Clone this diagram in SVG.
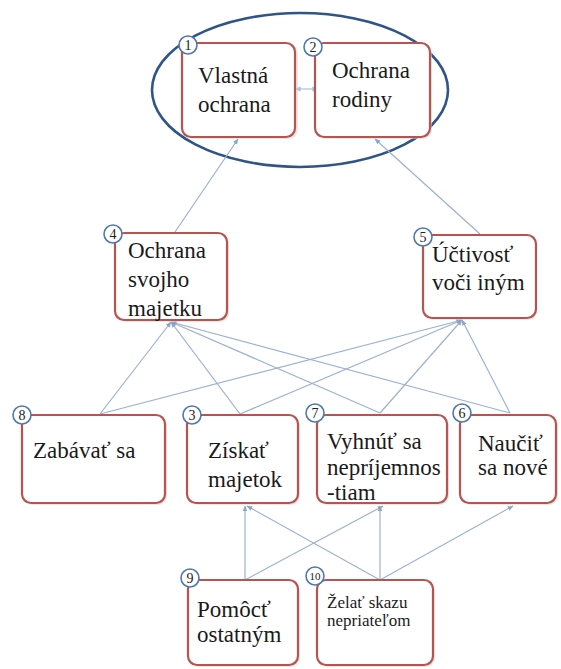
<svg xmlns="http://www.w3.org/2000/svg" width="561" height="669" viewBox="0 0 561 669">
  <style>
    .box { fill: #ffffff; stroke: #b8544f; stroke-width: 2.2; }
    .shadow { fill: #d9d4d4; stroke: none; opacity: 0.55; }
    .badge { fill: #ffffff; stroke: #4f78ad; stroke-width: 1.6; }
    .num { font-family: "Times New Roman", "Liberation Serif", Tinos, serif; font-size: 14px; fill: #222; text-anchor: middle; }
    .lbl { font-family: "Times New Roman", "Liberation Serif", Tinos, serif; font-size: 23px; fill: #1a1a1a; }
    .small { font-family: "Times New Roman", "Liberation Serif", Tinos, serif; font-size: 17px; fill: #1a1a1a; }
    .link { stroke: #9cb2cf; stroke-width: 1.2; fill: none; marker-end: url(#head); }
    .group { fill: none; stroke: #2f5587; stroke-width: 2.6; }
  </style>
  <defs>
    <marker id="head" viewBox="0 0 10 10" refX="9" refY="5" markerWidth="6" markerHeight="6" orient="auto" markerUnits="userSpaceOnUse">
      <path d="M0,1 L10,5 L0,9 Z" fill="#8ea6c6"/>
    </marker>
    <marker id="headStart" viewBox="0 0 10 10" refX="1" refY="5" markerWidth="6" markerHeight="6" orient="auto-start-reverse" markerUnits="userSpaceOnUse">
      <path d="M0,1 L10,5 L0,9 Z" fill="#a9c0dc"/>
    </marker>
  </defs>

  <rect width="561" height="669" fill="#ffffff"/>

  <!-- grouping ellipse around the two top goals -->
  <ellipse class="group" cx="300" cy="90" rx="148" ry="77"/>

  <!-- connectors -->
  <g id="connectors">
    <!-- row 2 to top -->
    <line class="link" x1="175" y1="232" x2="238" y2="139"/>
    <line class="link" x1="480" y1="234" x2="375" y2="139"/>
    <!-- double arrow between 1 and 2 -->
    <line x1="300" y1="89" x2="313" y2="89" stroke="#a9c0dc" stroke-width="1.2" marker-start="url(#headStart)" marker-end="url(#headStart)"/>
    <!-- row 3 to node 4 -->
    <line class="link" x1="100" y1="414" x2="171" y2="322"/>
    <line class="link" x1="240" y1="414" x2="171" y2="322"/>
    <line class="link" x1="380" y1="413" x2="171" y2="322"/>
    <line class="link" x1="510" y1="413" x2="171" y2="322"/>
    <!-- row 3 to node 5 -->
    <line class="link" x1="100" y1="414" x2="462" y2="320"/>
    <line class="link" x1="240" y1="414" x2="462" y2="320"/>
    <line class="link" x1="380" y1="413" x2="462" y2="320"/>
    <line class="link" x1="510" y1="413" x2="462" y2="320"/>
    <!-- bottom row to row 3 -->
    <line class="link" x1="245" y1="580" x2="245" y2="506"/>
    <line class="link" x1="245" y1="580" x2="383" y2="506"/>
    <line class="link" x1="380" y1="580" x2="247" y2="506"/>
    <line class="link" x1="380" y1="580" x2="380" y2="506"/>
    <line class="link" x1="380" y1="580" x2="513" y2="506"/>
  </g>

  <g id="node1">
    <rect class="shadow" x="184" y="45" width="114" height="94" rx="9"/>
    <rect class="box" x="182" y="43" width="113" height="94" rx="9"/>
    <text class="lbl" x="198" y="83">Vlastná</text>
    <text class="lbl" x="198" y="112">ochrana</text>
    <circle class="badge" cx="188" cy="45" r="9"/>
    <text class="num" x="188" y="50">1</text>
  </g>

  <g id="node2">
    <rect class="shadow" x="317" y="45" width="115" height="94" rx="9"/>
    <rect class="box" x="315" y="43" width="115" height="94" rx="9"/>
    <text class="lbl" x="332" y="78">Ochrana</text>
    <text class="lbl" x="332" y="107">rodiny</text>
    <circle class="badge" cx="313" cy="47" r="9"/>
    <text class="num" x="313" y="52">2</text>
  </g>

  <g id="node4">
    <rect class="shadow" x="117" y="235" width="112" height="87" rx="9"/>
    <rect class="box" x="115" y="233" width="112" height="87" rx="9"/>
    <text class="lbl" x="128" y="258">Ochrana</text>
    <text class="lbl" x="128" y="287">svojho</text>
    <text class="lbl" x="128" y="316">majetku</text>
    <circle class="badge" cx="113" cy="234" r="9"/>
    <text class="num" x="113" y="239">4</text>
  </g>

  <g id="node5">
    <rect class="shadow" x="425" y="237" width="112" height="83" rx="9"/>
    <rect class="box" x="423" y="235" width="113" height="83" rx="9"/>
    <text class="lbl" x="432" y="262">Účtivosť</text>
    <text class="lbl" x="432" y="290">voči iným</text>
    <circle class="badge" cx="423" cy="237" r="9"/>
    <text class="num" x="423" y="242">5</text>
  </g>

  <g id="node8">
    <rect class="shadow" x="24" y="417" width="143" height="88" rx="9"/>
    <rect class="box" x="22" y="415" width="143" height="88" rx="9"/>
    <text class="lbl" x="33" y="458">Zabávať sa</text>
    <circle class="badge" cx="22" cy="415" r="9"/>
    <text class="num" x="22" y="420">8</text>
  </g>

  <g id="node3">
    <rect class="shadow" x="189" y="417" width="111" height="88" rx="9"/>
    <rect class="box" x="187" y="415" width="111" height="88" rx="9"/>
    <text class="lbl" x="208" y="458">Získať</text>
    <text class="lbl" x="208" y="487">majetok</text>
    <circle class="badge" cx="192" cy="415" r="9"/>
    <text class="num" x="192" y="420">3</text>
  </g>

  <g id="node7">
    <rect class="shadow" x="319" y="417" width="130" height="88" rx="9"/>
    <rect class="box" x="317" y="415" width="130" height="88" rx="9"/>
    <text class="lbl" x="327" y="449">Vyhnúť sa</text>
    <text class="lbl" x="327" y="475">nepríjemnos</text>
    <text class="lbl" x="327" y="500">-tiam</text>
    <circle class="badge" cx="315" cy="413" r="9"/>
    <text class="num" x="315" y="418">7</text>
  </g>

  <g id="node6">
    <rect class="shadow" x="462" y="417" width="96" height="88" rx="9"/>
    <rect class="box" x="460" y="415" width="96" height="88" rx="9"/>
    <text class="lbl" x="478" y="451">Naučiť</text>
    <text class="lbl" x="478" y="475">sa nové</text>
    <circle class="badge" cx="462" cy="413" r="9"/>
    <text class="num" x="462" y="418">6</text>
  </g>

  <g id="node9">
    <rect class="shadow" x="190" y="582" width="110" height="85" rx="9"/>
    <rect class="box" x="188" y="580" width="110" height="85" rx="9"/>
    <text class="lbl" x="197" y="617">Pomôcť</text>
    <text class="lbl" x="197" y="642">ostatným</text>
    <circle class="badge" cx="190" cy="578" r="9"/>
    <text class="num" x="190" y="583">9</text>
  </g>

  <g id="node10">
    <rect class="shadow" x="319" y="582" width="116" height="85" rx="9"/>
    <rect class="box" x="317" y="580" width="116" height="85" rx="9"/>
    <text class="small" x="327" y="608">Želať skazu</text>
    <text class="small" x="327" y="626">nepriateľom</text>
    <circle class="badge" cx="315" cy="576" r="9"/>
    <text class="num" x="315" y="580" style="font-size:11px">10</text>
  </g>
</svg>
